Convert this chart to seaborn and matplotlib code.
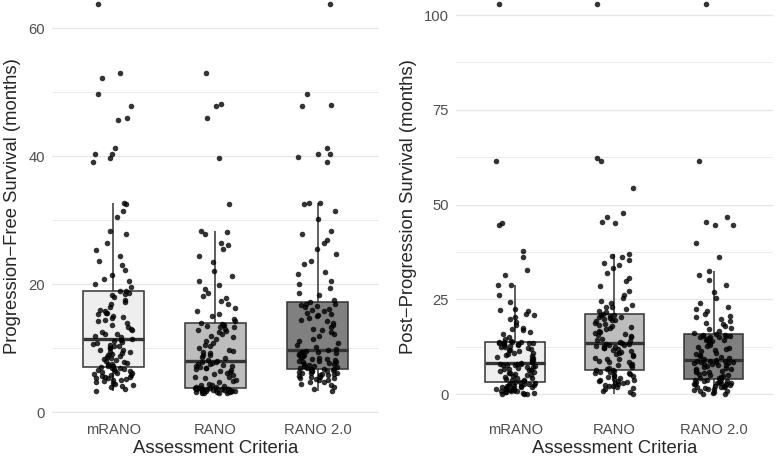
import numpy as np
import pandas as pd
import seaborn as sns
import matplotlib
matplotlib.use("Agg")
import matplotlib.pyplot as plt
from matplotlib.ticker import MultipleLocator

criteria = ["mRANO", "RANO", "RANO 2.0"]
box_colors = ["#EEEEEE", "#BDBDBD", "#808080"]

# progression-free survival (months)
pfs_mrano = [3.3, 3.6, 3.9, 4.1, 4.3, 4.4, 4.6, 4.7, 4.9, 5.0, 5.1, 5.2, 5.3, 5.4, 5.5,
             5.6, 5.7, 5.8, 5.9, 6.0, 6.1, 6.2, 6.3, 6.4, 6.5, 6.6, 6.7, 6.8, 6.9, 7.0,
             7.1, 7.2, 7.3, 7.5, 7.6, 7.7, 7.9, 8.0, 8.2, 8.3, 8.5, 8.6, 8.8, 8.9, 9.1,
             9.2, 9.4, 9.5, 9.7, 9.8, 10.0, 10.1, 10.3, 10.4, 10.6, 10.7, 10.9, 11.0, 11.2, 11.3,
             11.5, 11.8, 12.0, 12.2, 12.3, 12.6, 12.9, 13.1, 13.3, 13.6, 14.0, 14.2, 14.5, 14.7, 14.9,
             15.1, 15.3, 15.5, 15.6, 15.8, 16.0, 16.4, 16.9, 17.2, 17.6, 18.0, 18.3, 18.5, 18.7, 18.9,
             19.0, 19.6, 20.1, 20.5, 20.8, 21.4, 22.2, 23.0, 23.6, 24.5, 25.3, 26.4, 27.8, 28.4, 30.5,
             31.5, 32.6, 32.7, 39.1, 39.8, 40.3, 40.4, 41.3, 45.7, 46.0, 47.9, 49.8, 52.3, 53.0, 63.8]
pfs_rano = [3.0, 3.0, 3.1, 3.1, 3.2, 3.2, 3.2, 3.3, 3.3, 3.3, 3.4, 3.4, 3.4, 3.5, 3.5,
            3.5, 3.5, 3.6, 3.6, 3.6, 3.6, 3.7, 3.7, 3.7, 3.7, 3.7, 3.8, 3.8, 3.8, 3.8,
            3.9, 4.0, 4.1, 4.2, 4.3, 4.5, 4.7, 4.9, 5.1, 5.3, 5.5, 5.6, 5.8, 6.0, 6.2,
            6.3, 6.5, 6.6, 6.8, 6.9, 7.0, 7.1, 7.2, 7.3, 7.4, 7.5, 7.6, 7.7, 7.8, 7.9,
            8.0, 8.2, 8.5, 8.7, 8.9, 9.0, 9.2, 9.4, 9.6, 9.8, 10.1, 10.4, 10.6, 10.9, 11.1,
            11.4, 11.7, 12.0, 12.2, 12.5, 12.7, 12.9, 13.1, 13.3, 13.4, 13.5, 13.6, 13.7, 13.8, 13.9,
            14.2, 14.6, 15.0, 15.3, 15.8, 16.3, 17.0, 17.4, 17.9, 18.2, 18.6, 19.2, 19.9, 20.5, 21.3,
            22.1, 23.5, 24.4, 25.6, 26.2, 26.5, 27.8, 28.2, 28.4, 32.6, 39.8, 46.0, 47.9, 48.2, 53.0]
pfs_rano2 = [3.3, 3.7, 4.0, 4.3, 4.5, 4.7, 4.8, 5.0, 5.1, 5.2, 5.3, 5.4, 5.5, 5.6, 5.7,
             5.8, 5.9, 6.0, 6.0, 6.1, 6.2, 6.2, 6.3, 6.4, 6.4, 6.5, 6.6, 6.6, 6.7, 6.8,
             6.8, 6.9, 7.0, 7.1, 7.2, 7.3, 7.4, 7.5, 7.6, 7.7, 7.8, 7.9, 8.0, 8.1, 8.2,
             8.3, 8.4, 8.5, 8.6, 8.7, 8.8, 8.9, 9.0, 9.1, 9.2, 9.3, 9.4, 9.5, 9.6, 9.7,
             9.9, 10.2, 10.5, 10.9, 11.2, 11.5, 11.9, 12.2, 12.5, 12.8, 13.1, 13.3, 13.6, 13.9, 14.2,
             14.5, 14.8, 15.0, 15.2, 15.4, 15.6, 15.8, 16.0, 16.2, 16.4, 16.6, 16.8, 16.9, 17.0, 17.2,
             17.5, 18.3, 18.6, 19.4, 20.1, 20.6, 21.6, 21.9, 23.2, 23.6, 24.7, 25.5, 26.5, 27.0, 27.9,
             28.3, 31.5, 32.6, 32.7, 32.7, 39.1, 39.9, 40.3, 40.4, 41.3, 47.8, 48.0, 49.8, 63.8, 30.2]

# post-progression survival (months)
pps_mrano = [0.0, 0.1, 0.2, 0.3, 0.4, 0.5, 0.6, 0.8, 0.9, 1.0, 1.1, 1.2, 1.3, 1.4, 1.5,
             1.6, 1.7, 1.8, 1.9, 2.0, 2.1, 2.2, 2.3, 2.4, 2.5, 2.6, 2.7, 2.9, 3.0, 3.2,
             3.3, 3.5, 3.7, 3.9, 4.0, 4.2, 4.4, 4.6, 4.8, 5.0, 5.2, 5.4, 5.5, 5.7, 5.9,
             6.1, 6.3, 6.4, 6.6, 6.8, 7.0, 7.1, 7.3, 7.4, 7.6, 7.7, 7.8, 7.9, 8.0, 8.1,
             8.3, 8.5, 8.7, 9.0, 9.2, 9.5, 9.8, 10.0, 10.3, 10.6, 10.8, 11.0, 11.3, 11.6, 11.8,
             12.0, 12.2, 12.4, 12.6, 12.8, 13.0, 13.1, 13.2, 13.3, 13.4, 13.5, 13.6, 13.7, 13.7, 13.8,
             14.1, 14.5, 15.2, 15.8, 16.3, 16.9, 17.2, 17.6, 18.4, 19.0, 19.8, 20.5, 20.8, 21.3, 22.0,
             22.1, 22.5, 24.3, 26.1, 28.8, 28.8, 31.4, 32.8, 36.3, 37.8, 44.7, 45.2, 61.4, 102.8, 13.9]
pps_rano = [0.0, 0.5, 0.9, 1.3, 1.6, 1.9, 2.1, 2.3, 2.5, 2.7, 2.9, 3.0, 3.2, 3.4, 3.6,
            3.8, 3.9, 4.1, 4.3, 4.5, 4.7, 4.9, 5.1, 5.3, 5.5, 5.7, 5.8, 6.0, 6.1, 6.3,
            6.5, 6.8, 7.0, 7.3, 7.6, 7.8, 8.1, 8.4, 8.6, 8.9, 9.2, 9.4, 9.7, 10.0, 10.3,
            10.6, 10.9, 11.1, 11.4, 11.6, 11.9, 12.1, 12.3, 12.5, 12.7, 12.8, 12.9, 13.0, 13.2, 13.3,
            13.5, 13.8, 14.1, 14.4, 14.7, 15.0, 15.3, 15.6, 15.9, 16.2, 16.5, 16.8, 17.1, 17.4, 17.7,
            18.0, 18.3, 18.6, 18.9, 19.2, 19.5, 19.7, 19.9, 20.1, 20.3, 20.5, 20.7, 20.9, 21.0, 21.2,
            21.6, 22.0, 22.4, 22.9, 23.5, 24.1, 24.6, 25.3, 26.1, 27.2, 28.6, 29.8, 30.6, 31.9, 33.2,
            34.1, 34.6, 35.4, 36.2, 36.9, 36.5, 45.2, 45.3, 46.8, 47.7, 54.3, 61.4, 62.3, 102.8, 23.0]
pps_rano2 = [0.0, 0.2, 0.4, 0.6, 0.8, 1.0, 1.1, 1.3, 1.5, 1.6, 1.8, 1.9, 2.0, 2.2, 2.3,
             2.5, 2.6, 2.7, 2.8, 2.9, 3.0, 3.1, 3.2, 3.3, 3.4, 3.5, 3.6, 3.7, 3.9, 4.0,
             4.2, 4.4, 4.6, 4.8, 5.0, 5.2, 5.4, 5.6, 5.8, 6.0, 6.2, 6.4, 6.6, 6.8, 7.0,
             7.2, 7.4, 7.6, 7.8, 8.0, 8.1, 8.2, 8.3, 8.4, 8.5, 8.6, 8.7, 8.8, 8.9, 9.0,
             9.2, 9.5, 9.8, 10.1, 10.4, 10.7, 11.0, 11.3, 11.6, 11.9, 12.2, 12.5, 12.8, 13.1, 13.4,
             13.7, 14.0, 14.2, 14.4, 14.6, 14.8, 15.0, 15.1, 15.2, 15.3, 15.4, 15.5, 15.6, 15.7, 15.8,
             16.2, 16.7, 17.3, 18.0, 18.6, 19.2, 19.9, 20.6, 21.2, 21.9, 22.4, 23.0, 24.1, 25.5, 27.0,
             28.8, 30.2, 31.5, 32.6, 20.3, 18.9, 36.3, 40.0, 44.6, 44.7, 45.3, 46.8, 61.4, 102.8, 17.6]

FONT = ["Liberation Sans", "DejaVu Sans"]


def long_table(a, b, c):
    rows = []
    for name, vals in zip(criteria, [a, b, c]):
        for v in vals:
            rows.append((name, v))
    return pd.DataFrame(rows, columns=["criteria", "months"])


def panel(ax, df, ylabel, ylim, major, minor):
    sns.boxplot(data=df, x="criteria", y="months", order=criteria, hue="criteria",
                hue_order=criteria, palette=box_colors, legend=False, width=0.6,
                showfliers=False, showcaps=False, whis=1.5, linecolor="#333333",
                linewidth=1.1, medianprops={"linewidth": 2.4, "color": "#333333"},
                ax=ax, zorder=2)
    sns.stripplot(data=df, x="criteria", y="months", order=criteria, color="black",
                  alpha=0.8, size=4.0, jitter=0.2, linewidth=0, ax=ax, zorder=3)
    ax.set_xlim(-0.6, 2.6)
    ax.set_ylim(*ylim)
    ax.yaxis.set_major_locator(MultipleLocator(major))
    ax.yaxis.set_minor_locator(MultipleLocator(minor))
    ax.grid(False)
    ax.grid(axis="y", which="major", color="#E6E6E6", linewidth=1.0, zorder=0)
    ax.grid(axis="y", which="minor", color="#EDEDED", linewidth=0.8, zorder=0)
    ax.set_axisbelow(True)
    for s in ax.spines.values():
        s.set_visible(False)
    ax.tick_params(axis="y", which="both", length=0, labelsize=10.6,
                   labelcolor="#4D4D4D", pad=5)
    ax.tick_params(axis="x", which="both", length=0, labelsize=10.6,
                   labelcolor="#4D4D4D", pad=7)
    for lab in ax.get_xticklabels() + ax.get_yticklabels():
        lab.set_family(FONT)
    ax.set_xlabel("Assessment Criteria", fontsize=13.3, family=FONT, labelpad=2.5)
    ax.set_ylabel(ylabel, fontsize=13.3, family=FONT, labelpad=5)


np.random.seed(7)
sns.set_style("white")
plt.rcParams["font.family"] = FONT

fig = plt.figure(figsize=(7.77, 4.59), dpi=100)
ax1 = fig.add_axes([0.0669, 0.1002, 0.4208, 0.8998])
ax2 = fig.add_axes([0.5865, 0.1002, 0.4084, 0.8998])

panel(ax1, long_table(pfs_mrano, pfs_rano, pfs_rano2),
      "Progression\u2212Free Survival (months)", (-0.1, 64.43), 20, 10)
panel(ax2, long_table(pps_mrano, pps_rano, pps_rano2),
      "Post\u2212Progression Survival (months)", (-4.93, 103.96), 25, 12.5)

fig.savefig("out.png", dpi=100)
